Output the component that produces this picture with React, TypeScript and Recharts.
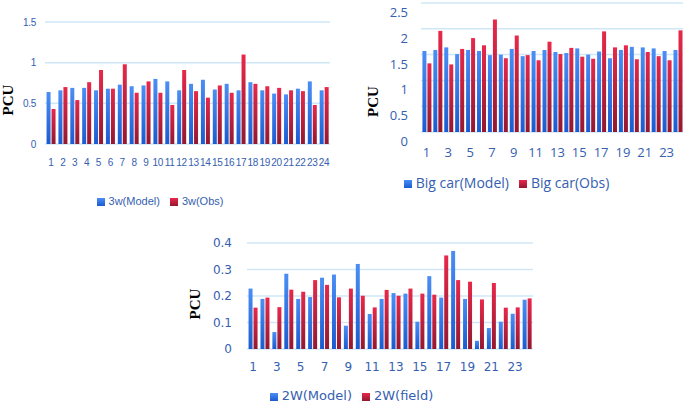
import {
  BarChart,
  Bar,
  XAxis,
  YAxis,
  CartesianGrid,
  Legend,
} from "recharts";

// case numbers on the x axis
const caseNumbers = [
  "1", "2", "3", "4", "5", "6", "7", "8", "9", "10", "11", "12",
  "13", "14", "15", "16", "17", "18", "19", "20", "21", "22", "23", "24",
];

// 3w panel
const threeWheelerModel = [
  0.64, 0.66, 0.69, 0.69, 0.66, 0.68, 0.73, 0.71, 0.72, 0.8, 0.77, 0.66,
  0.74, 0.79, 0.67, 0.74, 0.66, 0.76, 0.66, 0.62, 0.61, 0.68, 0.77, 0.66,
];
const threeWheelerObs = [
  0.43, 0.7, 0.54, 0.76, 0.91, 0.68, 0.98, 0.63, 0.77, 0.63, 0.48, 0.91,
  0.65, 0.57, 0.72, 0.63, 1.1, 0.74, 0.71, 0.69, 0.66, 0.65, 0.48, 0.7,
];
const threeWheelerTicks = [0, 0.5, 1, 1.5];

// big car panel
const bigCarModel = [
  1.57, 1.59, 1.64, 1.51, 1.59, 1.57, 1.49, 1.5, 1.61, 1.47, 1.57, 1.59,
  1.55, 1.53, 1.62, 1.5, 1.56, 1.43, 1.59, 1.65, 1.64, 1.62, 1.57, 1.59,
];
const bigCarObs = [
  1.33, 1.96, 1.31, 1.61, 1.82, 1.68, 2.18, 1.43, 1.87, 1.49, 1.39, 1.75,
  1.51, 1.63, 1.46, 1.42, 1.95, 1.64, 1.68, 1.41, 1.55, 1.47, 1.39, 1.97,
];
const bigCarTicks = [0, 0.5, 1, 1.5, 2, 2.5];

// 2W panel
const twoWheelerModel = [
  0.228, 0.189, 0.064, 0.284, 0.189, 0.196, 0.269, 0.281, 0.088, 0.321, 0.132, 0.189,
  0.211, 0.209, 0.103, 0.275, 0.194, 0.37, 0.189, 0.031, 0.079, 0.103, 0.133, 0.186,
];
const twoWheelerField = [
  0.156, 0.194, 0.158, 0.224, 0.216, 0.26, 0.242, 0.195, 0.228, 0.201, 0.157, 0.223,
  0.201, 0.228, 0.209, 0.205, 0.353, 0.26, 0.254, 0.187, 0.249, 0.156, 0.157, 0.191,
];
const twoWheelerTicks = [0, 0.1, 0.2, 0.3, 0.4];

const tickBlue = "#3560b0";

type PanelProps = {
  id: string;
  left: number;
  top: number;
  width: number;
  height: number;
  margin: { top: number; right: number; left: number; bottom: number };
  yAxisWidth: number;
  xAxisHeight: number;
  xTickMargin: number;
  yTickMargin: number;
  yTickDy: number;
  xInterval: number;
  ticks: number[];
  model: number[];
  obs: number[];
  modelName: string;
  obsName: string;
  font: string;
  fontSize: number;
  letterSpacing: number;
  legendFontSize: number;
  pcuX: number;
  pcuDy: number;
};

function PcuLabel(props: any) {
  const { viewBox, pcuX, pcuDy } = props;
  const cy = viewBox.y + viewBox.height / 2 + pcuDy;
  return (
    <text
      x={pcuX}
      y={cy}
      transform={`rotate(-90 ${pcuX} ${cy})`}
      textAnchor="middle"
      dominantBaseline="central"
      fontFamily="'Liberation Serif', 'Times New Roman', serif"
      fontWeight="bold"
      fontSize={15}
      fill="#000"
    >
      PCU
    </text>
  );
}

// y tick text, optionally nudged down a little
function YTick(props: any) {
  const { x, y, payload, dy, style } = props;
  return (
    <text
      x={x}
      y={y + dy}
      textAnchor="end"
      dominantBaseline="central"
      fill={tickBlue}
      fontSize={style.fontSize}
      fontFamily={style.fontFamily}
      letterSpacing={style.letterSpacing}
    >
      {payload.value}
    </text>
  );
}

function Panel(p: PanelProps) {
  const rows = caseNumbers.map((c, i) => ({
    name: c,
    model: p.model[i],
    obs: p.obs[i],
  }));

  const tickStyle = {
    fill: tickBlue,
    fontSize: p.fontSize,
    fontFamily: p.font,
    letterSpacing: p.letterSpacing,
  };

  return (
    <div style={{ position: "absolute", left: p.left, top: p.top }}>
      <BarChart
        width={p.width}
        height={p.height}
        data={rows}
        margin={p.margin}
        barCategoryGap="13%"
        barGap={1}
      >
        <defs>
          <linearGradient id={`${p.id}-blue`} x1="0" y1="0" x2="0" y2="1">
            <stop offset="0%" stopColor="#4a8ef5" />
            <stop offset="100%" stopColor="#1b5bd0" />
          </linearGradient>
          <linearGradient id={`${p.id}-red`} x1="0" y1="0" x2="0" y2="1">
            <stop offset="0%" stopColor="#e8284a" />
            <stop offset="100%" stopColor="#931830" />
          </linearGradient>
        </defs>

        <CartesianGrid
          vertical={false}
          stroke="#cfe7f6"
          strokeWidth={1.5}
        />

        <XAxis
          dataKey="name"
          interval={p.xInterval}
          axisLine={false}
          tickLine={false}
          height={p.xAxisHeight}
          tickMargin={p.xTickMargin}
          tick={tickStyle}
        />

        <YAxis
          domain={[p.ticks[0], p.ticks[p.ticks.length - 1]]}
          ticks={p.ticks}
          interval={0}
          width={p.yAxisWidth}
          axisLine={false}
          tickLine={false}
          tickMargin={p.yTickMargin}
          tick={<YTick dy={p.yTickDy} style={tickStyle} />}
          label={<PcuLabel pcuX={p.pcuX} pcuDy={p.pcuDy} />}
        />

        <Legend
          verticalAlign="bottom"
          align="center"
          iconType="square"
          iconSize={8}
          wrapperStyle={{
            fontSize: p.legendFontSize,
            fontFamily: p.font,
            lineHeight: "16px",
          }}
          formatter={(value: string) => (
            <span style={{ color: tickBlue }}>{value}</span>
          )}
        />

        <Bar
          dataKey="model"
          name={p.modelName}
          fill={`url(#${p.id}-blue)`}
          isAnimationActive={false}
        />
        <Bar
          dataKey="obs"
          name={p.obsName}
          fill={`url(#${p.id}-red)`}
          isAnimationActive={false}
        />
      </BarChart>
    </div>
  );
}

export default function App() {
  return (
    <div
      style={{
        position: "absolute",
        left: 0,
        top: 0,
        width: 685,
        height: 404,
        background: "#fff",
        overflow: "hidden",
      }}
    >
      <Panel
        id="tw"
        left={0}
        top={0}
        width={340}
        height={215}
        margin={{ top: 22, right: 10, left: 0, bottom: 6 }}
        yAxisWidth={45}
        xAxisHeight={49}
        xTickMargin={9}
        yTickMargin={3}
        yTickDy={0}
        xInterval={0}
        ticks={threeWheelerTicks}
        model={threeWheelerModel}
        obs={threeWheelerObs}
        modelName="3w(Model)"
        obsName="3w(Obs)"
        font="'Liberation Sans', Arial, sans-serif"
        fontSize={10}
        letterSpacing={-0.3}
        legendFontSize={11}
        pcuX={8}
        pcuDy={17}
      />

      <Panel
        id="bc"
        left={340}
        top={0}
        width={345}
        height={200}
        margin={{ top: 3, right: 2, left: 0, bottom: 9 }}
        yAxisWidth={81}
        xAxisHeight={43}
        xTickMargin={10}
        yTickMargin={7}
        yTickDy={9}
        xInterval={1}
        ticks={bigCarTicks}
        model={bigCarModel}
        obs={bigCarObs}
        modelName="Big car(Model)"
        obsName="Big car(Obs)"
        font="'Open Sans', sans-serif"
        fontSize={13}
        letterSpacing={0}
        legendFontSize={14}
        pcuX={33}
        pcuDy={34}
      />

      <Panel
        id="2w"
        left={180}
        top={220}
        width={360}
        height={184}
        margin={{ top: 23, right: 7, left: 0, bottom: 0 }}
        yAxisWidth={67}
        xAxisHeight={39}
        xTickMargin={7}
        yTickMargin={9}
        yTickDy={0}
        xInterval={1}
        ticks={twoWheelerTicks}
        model={twoWheelerModel}
        obs={twoWheelerField}
        modelName="2W(Model)"
        obsName="2W(field)"
        font="'DejaVu Sans', sans-serif"
        fontSize={12}
        letterSpacing={0}
        legendFontSize={13}
        pcuX={15}
        pcuDy={8}
      />
    </div>
  );
}
